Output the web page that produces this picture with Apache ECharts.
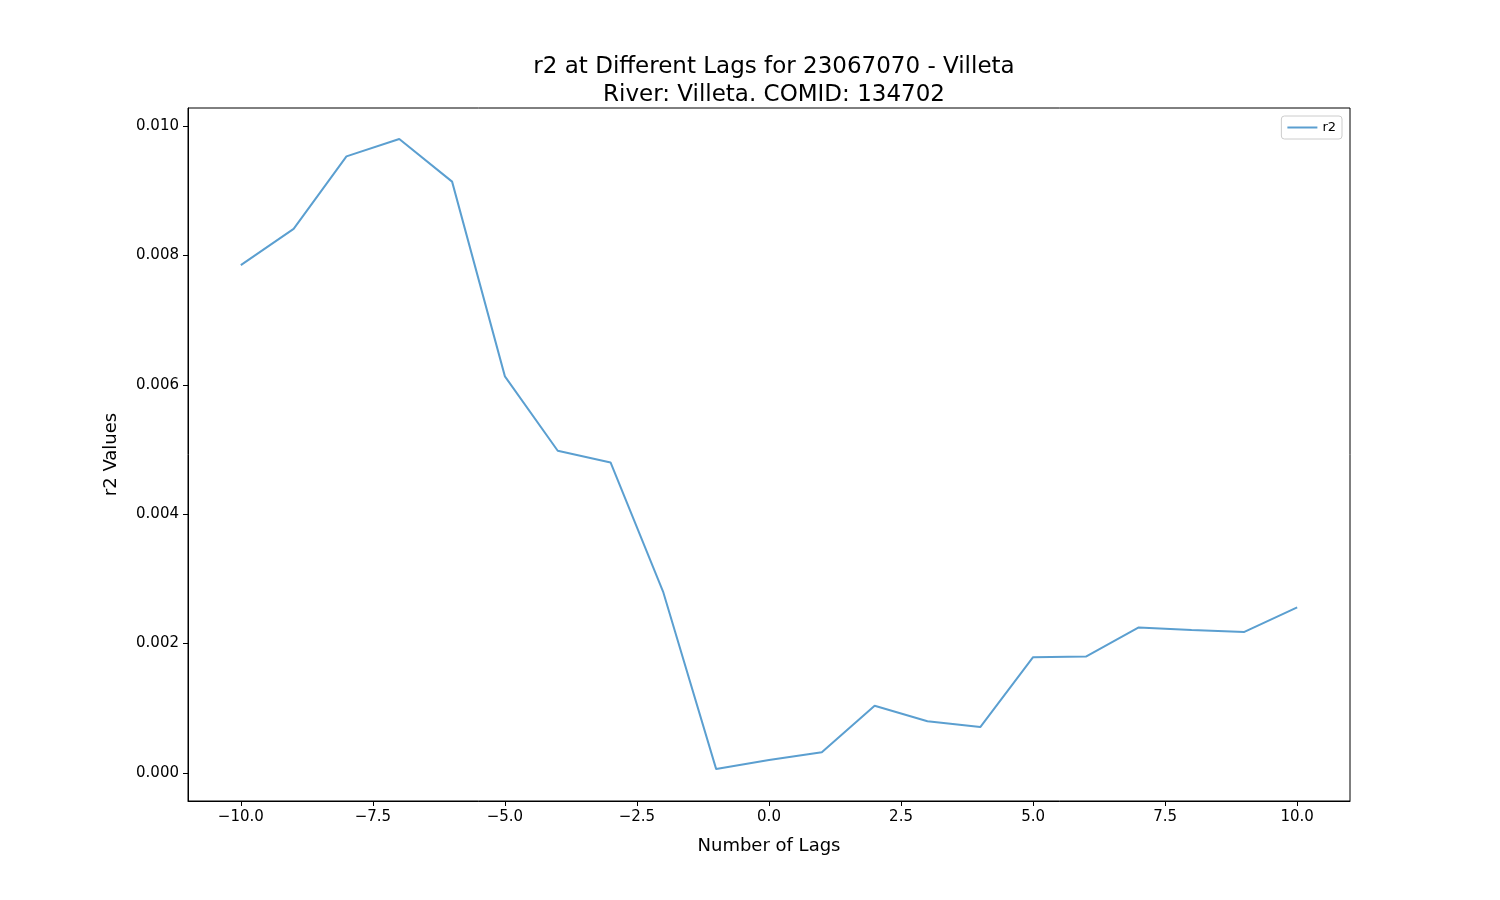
<!DOCTYPE html>
<html><head><meta charset="utf-8">
<script src="https://cdn.jsdelivr.net/npm/echarts@6/dist/echarts.min.js"></script>
<style>html,body{margin:0;padding:0;background:#fff}#c{width:1500px;height:900px}</style>
</head><body><div id="c"></div>
<script>
const lags = [-10,-9,-8,-7,-6,-5,-4,-3,-2,-1,0,1,2,3,4,5,6,7,8,9,10];
const r2 = [0.00785,0.00841,0.00953,0.00980,0.00914,0.00613,0.00498,0.00480,0.00279,0.00006,0.00020,0.00032,0.00104,0.00080,0.00071,0.00179,0.00180,0.00225,0.00221,0.00218,0.00256];
const xTicks = [-10,-7.5,-5,-2.5,0,2.5,5,7.5,10];
const yTicks = [0,0.002,0.004,0.006,0.008,0.010];
const font = 'DejaVu Sans';
const chart = echarts.init(document.getElementById('c'));
chart.setOption({
  animation:false,
  title:{text:'r2 at Different Lags for 23067070 - Villeta\nRiver: Villeta. COMID: 134702',left:769,textAlign:'center',top:48,
    textStyle:{fontFamily:font,fontSize:23,fontWeight:'normal',color:'#000',lineHeight:28}},
  legend:{right:158,top:116,orient:'vertical',itemWidth:30,itemHeight:2,icon:'rect',
    borderColor:'#ccc',borderWidth:1,borderRadius:3,padding:[5,6],
    textStyle:{fontFamily:font,fontSize:13,color:'#000'},data:['r2']},
  grid:{left:188,right:150,top:108,bottom:99,show:true,borderColor:'#000',borderWidth:1},
  xAxis:{type:'value',min:-11,max:11,name:'Number of Lags',nameLocation:'middle',nameGap:36,
    nameTextStyle:{fontFamily:font,fontSize:18,color:'#000'},
    axisLine:{onZero:false,lineStyle:{color:'#000'}},splitLine:{show:false},
    axisTick:{show:true,length:5,lineStyle:{color:'#000'},customValues:xTicks},
    axisLabel:{fontFamily:font,fontSize:15,color:'#000',margin:9,customValues:xTicks,
      formatter:v=>v.toFixed(1).replace('-','\u2212')}},
  yAxis:{type:'value',min:-0.000433,max:0.010278,name:'r2 Values',nameLocation:'middle',nameGap:68,
    nameTextStyle:{fontFamily:font,fontSize:18,color:'#000'},
    axisLine:{show:true,onZero:false,lineStyle:{color:'#000'}},splitLine:{show:false},
    axisTick:{show:true,length:5,lineStyle:{color:'#000'},customValues:yTicks},
    axisLabel:{fontFamily:font,fontSize:15,color:'#000',margin:9,customValues:yTicks,
      formatter:v=>v.toFixed(3)}},
  series:[{name:'r2',type:'line',data:lags.map((l,i)=>[l,r2[i]]),showSymbol:false,
    lineStyle:{color:'#5b9fd0',width:2},itemStyle:{color:'#5b9fd0'}}]
});
</script></body></html>
